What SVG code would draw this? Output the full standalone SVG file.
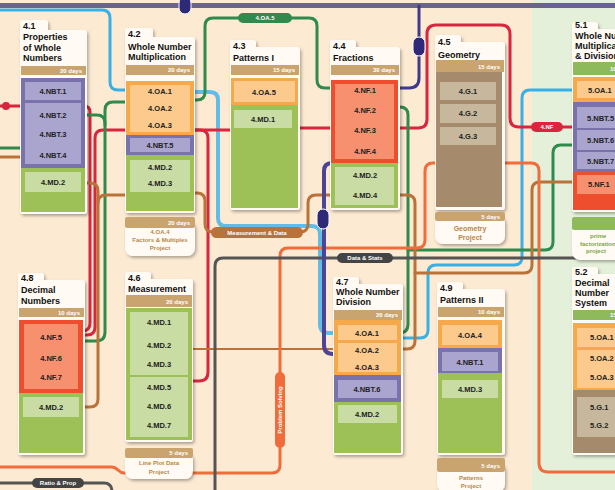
<svg xmlns="http://www.w3.org/2000/svg" width="615" height="490" viewBox="0 0 615 490">
<defs>
<filter id="sh" x="-15%" y="-10%" width="140%" height="130%"><feDropShadow dx="1.5" dy="2" stdDeviation="1.5" flood-color="#000" flood-opacity="0.3"/></filter>
<style>
.card{fill:#fffbf4}
.tan{fill:#c9a46e}
.gb{fill:#8fba5c}
.pu{fill:#7a72aa}.pui{fill:#aaa5cf}
.or{fill:#f6a94a}.ori{fill:#fbca8c}
.gr{fill:#9dc157}.gri{fill:#c8dca3}
.rd{fill:#ee4e2e}.rdi{fill:#f6906f}
.br{fill:#a58b6b}.bri{fill:#c7b79d}
.t{font-family:"Liberation Sans",Arial,sans-serif;font-weight:bold;font-size:9px;fill:#111}
.c{font-family:"Liberation Sans",Arial,sans-serif;font-weight:bold;font-size:7.5px;fill:#222;text-anchor:middle}
.cs{font-family:"Liberation Sans",Arial,sans-serif;font-weight:bold;font-size:7.5px;fill:#222}
.s{font-family:"Liberation Sans",Arial,sans-serif;font-weight:bold;font-size:6px;fill:#fff;text-anchor:end}
.f{font-family:"Liberation Sans",Arial,sans-serif;font-weight:bold;font-size:6px;fill:#b8864c;text-anchor:middle}
.fg{font-family:"Liberation Sans",Arial,sans-serif;font-weight:bold;font-size:6px;fill:#7aa64a}
.lb{font-family:"Liberation Sans",Arial,sans-serif;font-weight:bold;font-size:6px;fill:#fff;text-anchor:middle}
.mk{fill:#2f2a78;stroke:#fff;stroke-width:1}
</style>
</defs>
<rect x="0" y="0" width="615" height="490" fill="#fcead3"/>
<rect x="532" y="0" width="83" height="490" fill="#e5f0db"/>

<g id="connectors" fill="none" stroke-width="3" stroke-linecap="round" stroke-linejoin="round">
<path d="M0,5.5 H615" stroke="#6b6296" stroke-width="5"/>
<path d="M419,6 V78 Q419,88 409,88 H398" stroke="#3f3a8c"/>
<path d="M0,10 H102 Q110,10 110,18 V82 Q110,90 118,90 H128" stroke="#3aafe3"/>
<path d="M192,92 H210 Q218,92 218,100 V218 Q218,226 226,226 H312 Q320,226 320,234 V324 Q320,333 329,333 H336" stroke="#62bce8" stroke-width="4"/>
<path d="M400,338 H420 Q428,338 428,330 V273 Q428,265 436,265 H514 Q522,265 522,257 V98 Q522,90 530,90 H575" stroke="#3aafe3"/>
<path d="M0,106 H24" stroke="#d7263d"/>
<path d="M82,106 H84 Q90,106 90,112 V323 Q90,331 82,331 H80" stroke="#d7263d"/>
<path d="M128,130 H103 Q95,130 95,138 V327 Q95,335 87,335 H80" stroke="#d7263d"/>
<path d="M192,130 H233" stroke="#d7263d"/>
<path d="M297,128 H333" stroke="#d7263d"/>
<path d="M397,128 H418 Q427,128 427,119 V34 Q427,25 436,25 H501 Q510,25 510,34 V118 Q510,127 519,127 H575" stroke="#d7263d"/>
<path d="M195,130 H200 Q208,130 208,138 V372 Q208,381 199,381 H190" stroke="#d7263d"/>
<path d="M192,100 H197 Q205,100 205,92 V26 Q205,18 213,18 H309 Q317,18 317,26 V80 Q317,88 325,88 H333" stroke="#2f8a4c"/>
<path d="M397,107 H400 Q408,107 408,115 V324 Q408,333 399,333 H398" stroke="#2f8a4c"/>
<path d="M575,145 H561 Q553,145 553,153 V242 Q553,250 545,250 H408" stroke="#2f8a4c"/>
<path d="M82,115 H97 Q105,115 105,123 V332 Q105,341 96,341 H80" stroke="#2f8a4c"/>
<path d="M128,102 H113 Q105,102 105,110 V125" stroke="#2f8a4c"/>
<path d="M0,148 H24" stroke="#2f8a4c"/>
<path d="M0,157 H24" stroke="#b9733a"/>
<path d="M82,183 H90 Q98,183 98,191 V399 Q98,407 90,407 H80" stroke="#b9733a"/>
<path d="M128,195 H106 Q98,195 98,203" stroke="#b9733a"/>
<path d="M192,193 H197 Q205,193 205,201 V224 Q205,232 213,232 H300 Q308,232 308,224 V203 Q308,195 316,195 H333" stroke="#b9733a"/>
<path d="M190,349 H336" stroke="#b9733a" stroke-width="2"/>
<path d="M397,195 H407 Q415,195 415,203 V341 Q415,349 407,349 H400" stroke="#b9733a"/>
<path d="M575,182 H540 Q532,182 532,190 V265 Q532,273 524,273 H415" stroke="#b9733a"/>
<path d="M502,163 H531 Q539,163 539,171 V463 Q539,472 548,472 H615" stroke="#f26b3a"/>
<path d="M438,163 H433 Q425,163 425,171 V240 Q425,248 417,248 H288 Q280,248 280,256 V465 Q280,473 272,473 H124 C118,473 118,467 112,467 H0" stroke="#f26b3a"/>
<path d="M615,258 H223 Q215,258 215,266 V492" stroke="#555"/>
<path d="M0,483 H104 Q112,483 112,492" stroke="#555"/>
<path d="M334,163 H332 Q324,163 324,171 V345 Q324,354 333,354 H336" stroke="#4d4593" stroke-width="4"/>
<circle cx="6" cy="106" r="4" fill="#d7263d" stroke="none"/>
</g>

<g id="line-labels">
<rect x="238" y="13" width="54" height="10" rx="5" fill="#2f8a4c"/>
<text class="lb" x="265" y="20.3">4.OA.5</text>
<rect x="531" y="122" width="32" height="10" rx="5" fill="#d7263d"/>
<text class="lb" x="547" y="129.3">4.NF</text>
<rect x="211" y="227" width="92" height="11" rx="5.5" fill="#b9733a"/>
<text class="lb" x="257" y="234.5">Measurement &amp; Data</text>
<rect x="337" y="253" width="56" height="10" rx="5" fill="#444"/>
<text class="lb" x="365" y="260.3">Data &amp; Stats</text>
<rect x="32" y="478" width="52" height="10" rx="5" fill="#444"/>
<text class="lb" x="58" y="485.3">Ratio &amp; Prop</text>
<rect x="275" y="372" width="10" height="76" rx="5" fill="#f26b3a"/>
<text class="lb" transform="translate(282.2,410) rotate(-90)">Problem Solving</text>
<rect class="mk" x="179" y="-3" width="12" height="17" rx="6"/>
<rect class="mk" x="413" y="37" width="12" height="19" rx="6"/>
<rect class="mk" x="317" y="209" width="12" height="20" rx="6"/>
</g>

<g id="n41">
<g filter="url(#sh)"><rect class="card" x="20" y="20" width="28" height="16" rx="3"/><rect class="card" x="20" y="30" width="67" height="184" rx="3"/></g>
<text class="t" x="23" y="29">4.1</text>
<text class="t" x="23" y="40">Properties</text>
<text class="t" x="23" y="50.5">of Whole</text>
<text class="t" x="23" y="61">Numbers</text>
<rect class="tan" x="21" y="66" width="65" height="9"/>
<text class="s" x="82" y="72.7">20 days</text>
<rect class="pu" x="21" y="78" width="64" height="90"/>
<rect class="pui" x="25" y="82" width="56" height="18"/>
<rect class="pui" x="25" y="103" width="56" height="61"/>
<text class="c" x="53" y="93.5">4.NBT.1</text>
<text class="c" x="53" y="117.5">4.NBT.2</text>
<text class="c" x="53" y="137">4.NBT.3</text>
<text class="c" x="53" y="158">4.NBT.4</text>
<rect class="gr" x="21" y="168" width="64" height="44"/>
<rect class="gri" x="25" y="172" width="56" height="20"/>
<text class="c" x="53" y="185">4.MD.2</text>
</g>

<g id="n42">
<g filter="url(#sh)"><rect class="card" x="125" y="28" width="28" height="16" rx="3"/><rect class="card" x="125" y="37" width="70" height="176" rx="3"/>
<rect class="card" x="125" y="220" width="70" height="36" rx="8"/></g>
<text class="t" x="128" y="36.5">4.2</text>
<text class="t" x="128" y="49.5">Whole Number</text>
<text class="t" x="128" y="59.5">Multiplication</text>
<rect class="tan" x="126" y="65" width="68" height="10"/>
<text class="s" x="190" y="72">20 days</text>
<rect class="or" x="126" y="81" width="68" height="54"/>
<rect class="ori" x="130" y="85" width="60" height="47"/>
<text class="c" x="160" y="93.5">4.OA.1</text>
<text class="c" x="160" y="110.5">4.OA.2</text>
<text class="c" x="160" y="127.5">4.OA.3</text>
<rect class="pu" x="126" y="135" width="68" height="20"/>
<rect class="pui" x="130" y="138" width="60" height="14"/>
<text class="c" x="160" y="147.5">4.NBT.5</text>
<rect class="gr" x="126" y="155" width="68" height="56"/>
<rect class="gri" x="130" y="160" width="60" height="32"/>
<text class="c" x="160" y="169.5">4.MD.2</text>
<text class="c" x="160" y="186">4.MD.3</text>
<rect class="tan" x="125" y="217" width="70" height="11" rx="2"/>
<text class="s" x="190" y="224.8">20 days</text>
<text class="f" x="160" y="234">4.OA.4</text>
<text class="f" x="160" y="242">Factors &amp; Multiples</text>
<text class="f" x="160" y="250">Project</text>
</g>

<g id="n43">
<g filter="url(#sh)"><rect class="card" x="230" y="40" width="26" height="14" rx="3"/><rect class="card" x="230" y="47" width="70" height="163" rx="3"/></g>
<text class="t" x="233" y="48.5">4.3</text>
<text class="t" x="233" y="61">Patterns I</text>
<rect class="tan" x="231" y="65" width="68" height="10"/>
<text class="s" x="295" y="72">15 days</text>
<rect class="or" x="231" y="78" width="67" height="27"/>
<rect class="ori" x="234" y="81" width="61" height="21"/>
<text class="c" x="264" y="94.5">4.OA.5</text>
<rect class="gr" x="231" y="105" width="67" height="103"/>
<rect class="gri" x="234" y="110" width="58" height="18"/>
<text class="c" x="263" y="121.5">4.MD.1</text>
</g>

<g id="n44">
<g filter="url(#sh)"><rect class="card" x="330" y="40" width="26" height="14" rx="3"/><rect class="card" x="330" y="47" width="70" height="163" rx="3"/></g>
<text class="t" x="333" y="48.5">4.4</text>
<text class="t" x="333" y="61">Fractions</text>
<rect class="tan" x="331" y="65" width="68" height="10"/>
<text class="s" x="395" y="72">30 days</text>
<rect class="rd" x="331" y="80" width="67" height="83"/>
<rect class="rdi" x="335" y="84" width="59" height="75"/>
<text class="c" x="365" y="92.5">4.NF.1</text>
<text class="c" x="365" y="112.5">4.NF.2</text>
<text class="c" x="365" y="132.5">4.NF.3</text>
<text class="c" x="365" y="154">4.NF.4</text>
<rect class="gr" x="331" y="163" width="67" height="45"/>
<rect class="gri" x="335" y="167" width="59" height="38"/>
<text class="c" x="365" y="177.5">4.MD.2</text>
<text class="c" x="365" y="197.5">4.MD.4</text>
</g>

<g id="n45">
<g filter="url(#sh)"><rect class="card" x="435" y="35" width="26" height="14" rx="3"/><rect class="card" x="435" y="42" width="70" height="168" rx="3"/>
<rect class="card" x="435" y="215" width="70" height="29" rx="8"/></g>
<text class="t" x="438" y="44.5">4.5</text>
<text class="t" x="438" y="57.5">Geometry</text>
<rect class="tan" x="436" y="60" width="68" height="12"/>
<text class="s" x="500" y="68.5">15 days</text>
<rect class="br" x="436" y="72" width="66" height="135"/>
<rect class="bri" x="440" y="82" width="56" height="18"/>
<rect class="bri" x="440" y="104" width="56" height="19"/>
<rect class="bri" x="440" y="127" width="56" height="18"/>
<text class="c" x="468" y="93.5">4.G.1</text>
<text class="c" x="468" y="116">4.G.2</text>
<text class="c" x="468" y="139">4.G.3</text>
<rect class="tan" x="435" y="212" width="70" height="9" rx="2"/>
<text class="s" x="500" y="218.8">5 days</text>
<text class="f" x="470" y="231" style="font-size:7px">Geometry</text>
<text class="f" x="470" y="239.5" style="font-size:7px">Project</text>
</g>

<g id="n51">
<g filter="url(#sh)"><rect class="card" x="572" y="22" width="26" height="14" rx="3"/><rect class="card" x="572" y="29" width="60" height="183" rx="3"/>
<rect class="card" x="572" y="222" width="60" height="38" rx="8"/></g>
<text class="t" x="575" y="28">5.1</text>
<text class="t" x="575" y="38.5">Whole Number</text>
<text class="t" x="575" y="48.5">Multiplication</text>
<text class="t" x="575" y="58.5">&amp; Division</text>
<rect class="gb" x="573" y="62" width="50" height="13"/>
<text class="s" x="632" y="70.5">10 days</text>
<rect class="or" x="573" y="77" width="50" height="25"/>
<rect class="ori" x="577" y="81" width="46" height="17"/>
<text class="cs" x="588" y="92.5">5.OA.1</text>
<rect class="pu" x="573" y="102" width="50" height="70"/>
<rect class="pui" x="577" y="107" width="46" height="21"/>
<rect class="pui" x="577" y="130" width="46" height="20"/>
<rect class="pui" x="577" y="152" width="46" height="17"/>
<text class="cs" x="587" y="120.5">5.NBT.5</text>
<text class="cs" x="587" y="142.5">5.NBT.6</text>
<text class="cs" x="587" y="163.5">5.NBT.7</text>
<rect class="rd" x="573" y="172" width="50" height="38"/>
<rect class="rdi" x="577" y="175" width="46" height="19"/>
<text class="cs" x="588" y="187">5.NF.1</text>
<rect class="gb" x="572" y="217" width="60" height="13" rx="2"/>
<text class="fg" x="590" y="238">prime</text>
<text class="fg" x="580" y="245.5">factorization</text>
<text class="fg" x="586" y="253">project</text>
</g>

<g id="n48">
<g filter="url(#sh)"><rect class="card" x="18" y="273" width="26" height="14" rx="3"/><rect class="card" x="18" y="280" width="67" height="175" rx="3"/></g>
<text class="t" x="21" y="281">4.8</text>
<text class="t" x="21" y="293">Decimal</text>
<text class="t" x="21" y="303.5">Numbers</text>
<rect class="tan" x="19" y="308" width="65" height="9"/>
<text class="s" x="80" y="314.8">10 days</text>
<rect class="rd" x="19" y="320" width="64" height="73"/>
<rect class="rdi" x="24" y="324" width="54" height="65"/>
<text class="c" x="51" y="339.5">4.NF.5</text>
<text class="c" x="51" y="360.5">4.NF.6</text>
<text class="c" x="51" y="379.5">4.NF.7</text>
<rect class="gr" x="19" y="393" width="64" height="60"/>
<rect class="gri" x="23" y="397" width="56" height="20"/>
<text class="c" x="51" y="409.5">4.MD.2</text>
</g>

<g id="n46">
<g filter="url(#sh)"><rect class="card" x="125" y="272" width="26" height="14" rx="3"/><rect class="card" x="125" y="279" width="68" height="163" rx="3"/>
<rect class="card" x="125" y="452" width="68" height="27" rx="8"/></g>
<text class="t" x="128" y="281">4.6</text>
<text class="t" x="128" y="292">Measurement</text>
<rect class="tan" x="126" y="295" width="66" height="12"/>
<text class="s" x="188" y="303.5">20 days</text>
<rect class="gr" x="126" y="308" width="66" height="132"/>
<rect class="gri" x="130" y="312" width="58" height="63"/>
<rect class="gri" x="130" y="377" width="58" height="60"/>
<text class="c" x="159" y="324.5">4.MD.1</text>
<text class="c" x="159" y="347.5">4.MD.2</text>
<text class="c" x="159" y="366.5">4.MD.3</text>
<text class="c" x="159" y="389.5">4.MD.5</text>
<text class="c" x="159" y="408.5">4.MD.6</text>
<text class="c" x="159" y="427.5">4.MD.7</text>
<rect class="tan" x="125" y="448" width="68" height="10" rx="2"/>
<text class="s" x="188" y="455.2">5 days</text>
<text class="f" x="159" y="465">Line Plot Data</text>
<text class="f" x="159" y="473.5">Project</text>
</g>

<g id="n47">
<g filter="url(#sh)"><rect class="card" x="333" y="277" width="26" height="14" rx="3"/><rect class="card" x="333" y="284" width="70" height="171" rx="3"/></g>
<text class="t" x="336" y="285">4.7</text>
<text class="t" x="336" y="295">Whole Number</text>
<text class="t" x="336" y="305">Division</text>
<rect class="tan" x="334" y="310" width="68" height="10"/>
<text class="s" x="398" y="317">20 days</text>
<rect class="or" x="334" y="320" width="67" height="55"/>
<rect class="ori" x="338" y="325" width="59" height="15"/>
<rect class="ori" x="338" y="343" width="59" height="29"/>
<text class="c" x="367" y="335.5">4.OA.1</text>
<text class="c" x="367" y="352.5">4.OA.2</text>
<text class="c" x="367" y="369.5">4.OA.3</text>
<rect class="pu" x="334" y="375" width="67" height="27"/>
<rect class="pui" x="338" y="380" width="59" height="18"/>
<text class="c" x="367" y="392">4.NBT.6</text>
<rect class="gr" x="334" y="402" width="67" height="51"/>
<rect class="gri" x="338" y="405" width="59" height="18"/>
<text class="c" x="367" y="416.5">4.MD.2</text>
</g>

<g id="n49">
<g filter="url(#sh)"><rect class="card" x="437" y="282" width="26" height="14" rx="3"/><rect class="card" x="437" y="289" width="68" height="166" rx="3"/>
<rect class="card" x="437" y="462" width="68" height="30" rx="8"/></g>
<text class="t" x="440" y="291">4.9</text>
<text class="t" x="440" y="303">Patterns II</text>
<rect class="tan" x="438" y="307" width="66" height="10"/>
<text class="s" x="500" y="314">10 days</text>
<rect class="or" x="438" y="320" width="64" height="28"/>
<rect class="ori" x="442" y="325" width="56" height="20"/>
<text class="c" x="470" y="337.5">4.OA.4</text>
<rect class="pu" x="438" y="348" width="64" height="25"/>
<rect class="pui" x="442" y="352" width="56" height="19"/>
<text class="c" x="470" y="364.5">4.NBT.1</text>
<rect class="gr" x="438" y="373" width="64" height="80"/>
<rect class="gri" x="442" y="380" width="56" height="18"/>
<text class="c" x="470" y="391.5">4.MD.3</text>
<rect class="tan" x="437" y="458" width="68" height="14" rx="2"/>
<text class="s" x="500" y="467.5">5 days</text>
<text class="f" x="471" y="479.5">Patterns</text>
<text class="f" x="471" y="487.5">Project</text>
</g>

<g id="n52">
<g filter="url(#sh)"><rect class="card" x="572" y="267" width="26" height="14" rx="3"/><rect class="card" x="572" y="274" width="60" height="181" rx="3"/></g>
<text class="t" x="575" y="275">5.2</text>
<text class="t" x="575" y="286">Decimal</text>
<text class="t" x="575" y="296">Number</text>
<text class="t" x="575" y="306">System</text>
<rect class="gb" x="573" y="310" width="50" height="10"/>
<text class="s" x="632" y="317">15 days</text>
<rect class="or" x="573" y="323" width="50" height="67"/>
<rect class="ori" x="577" y="328" width="46" height="19"/>
<rect class="ori" x="577" y="350" width="46" height="38"/>
<text class="cs" x="590" y="340">5.OA.1</text>
<text class="cs" x="590" y="360.5">5.OA.2</text>
<text class="cs" x="590" y="380">5.OA.3</text>
<rect class="br" x="573" y="390" width="50" height="63"/>
<rect class="bri" x="577" y="397" width="46" height="40"/>
<text class="cs" x="590" y="409.5">5.G.1</text>
<text class="cs" x="590" y="427.5">5.G.2</text>
</g>
</svg>
